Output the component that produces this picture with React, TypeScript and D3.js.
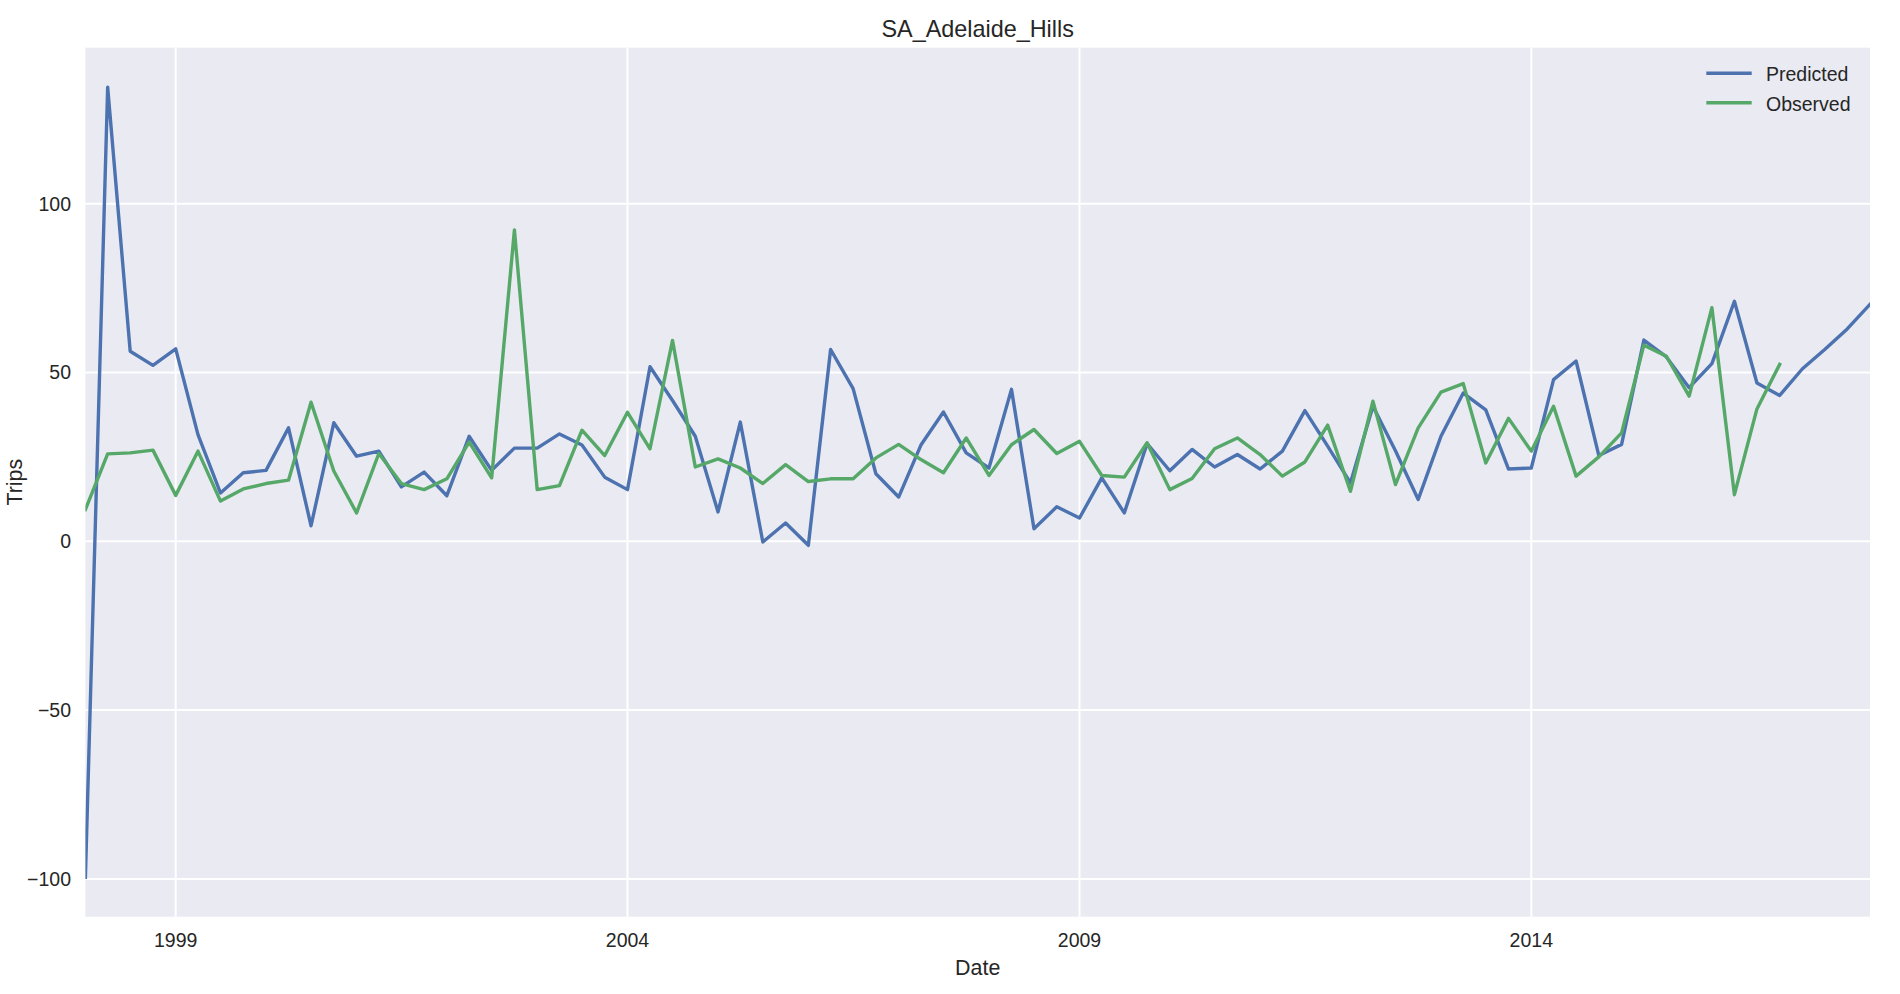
import * as d3 from "d3";

// quarterly values, 1998 Q1 onward
const predicted: number[] = [
  -99.5, 134.5, 56.3, 52.1, 57.0, 31.6, 14.3, 20.3, 21.0, 33.6,
  4.6, 35.1, 25.2, 26.7, 16.1, 20.5, 13.5, 31.1, 21.0, 27.6,
  27.6, 31.8, 28.5, 19.0, 15.3, 51.7, 41.7, 31.1, 8.7, 35.3,
  -0.2, 5.4, -1.2, 56.8, 45.2, 20.0, 13.1, 28.5, 38.3, 26.2,
  21.7, 45.0, 3.7, 10.2, 6.9, 18.8, 8.4, 28.9, 20.9, 27.2,
  22.0, 25.7, 21.4, 26.7, 38.7, 28.2, 17.3, 40.0, 26.8, 12.4,
  31.1, 43.9, 38.9, 21.4, 21.7, 47.9, 53.4, 25.4, 28.7, 59.6,
  54.6, 45.5, 52.6, 71.1, 46.9, 43.2, 51.1, 56.8, 62.9, 70.2,
];

const observed: number[] = [
  9.4, 25.9, 26.2, 27.0, 13.6, 26.7, 11.9, 15.5, 17.1, 18.1,
  41.2, 20.8, 8.4, 26.0, 17.1, 15.3, 18.5, 29.4, 18.8, 92.2,
  15.3, 16.5, 32.9, 25.4, 38.2, 27.4, 59.5, 22.0, 24.4, 21.7,
  17.1, 22.7, 17.7, 18.5, 18.5, 24.7, 28.7, 24.2, 20.3, 30.6,
  19.5, 28.6, 33.1, 26.0, 29.6, 19.5, 19.0, 29.2, 15.3, 18.6,
  27.4, 30.6, 25.7, 19.3, 23.5, 34.4, 14.8, 41.5, 16.8, 33.6,
  44.2, 46.7, 23.2, 36.4, 26.7, 40.0, 19.3, 25.0, 32.1, 58.1,
  54.8, 43.0, 69.2, 13.8, 39.2, 52.4,
];

const tickYears: number[] = [1999, 2004, 2009, 2014];
const yTicks: number[] = [-100, -50, 0, 50, 100];

const series = [
  { name: "Predicted", values: predicted, color: "#4C72B0" },
  { name: "Observed", values: observed, color: "#55A868" },
];

const W = 1900;
const H = 994;
const left = 85.4;
const right = 1870;
const top = 47.7;
const bottom = 916.7;
const font = "'Liberation Sans', Arial, sans-serif";
const ink = "#262626";

const quarter = (i: number) => new Date(1998, i * 3, 1);

export default function App() {
  const x = d3
    .scaleTime()
    .domain([quarter(0), quarter(predicted.length - 1)])
    .range([left, right]);

  const y = d3.scaleLinear().domain([-111.2, 146.2]).range([bottom, top]);

  const line = d3
    .line<number>()
    .x((_, i) => x(quarter(i)))
    .y((d) => y(d));

  const fmt = (v: number) => (v < 0 ? "\u2212" + Math.abs(v) : String(v));

  return (
    <svg
      width={W}
      height={H}
      style={{ position: "absolute", left: 0, top: 0, display: "block" }}
      fontFamily={font}
    >
      <rect x={0} y={0} width={W} height={H} fill="#ffffff" />
      <defs>
        <clipPath id="plot">
          <rect x={left} y={top} width={right - left} height={bottom - top} />
        </clipPath>
      </defs>
      <rect x={left} y={top} width={right - left} height={bottom - top} fill="#EAEAF2" />

      {/* grid */}
      {yTicks.map((t) => (
        <line key={"gy" + t} x1={left} x2={right} y1={y(t)} y2={y(t)} stroke="#fff" strokeWidth={2} />
      ))}
      {tickYears.map((yr) => (
        <line
          key={"gx" + yr}
          x1={x(new Date(yr, 0, 1))}
          x2={x(new Date(yr, 0, 1))}
          y1={top}
          y2={bottom}
          stroke="#fff"
          strokeWidth={2}
        />
      ))}

      {/* series */}
      <g clipPath="url(#plot)">
        {series.map((s) => (
          <path
            key={s.name}
            d={line(s.values) ?? ""}
            fill="none"
            stroke={s.color}
            strokeWidth={3.4}
            strokeLinejoin="round"
            strokeLinecap="square"
          />
        ))}
      </g>

      {/* y ticks */}
      {yTicks.map((t) => (
        <text key={"ty" + t} x={71} y={y(t) + 7} textAnchor="end" fontSize={19.5} fill={ink}>
          {fmt(t)}
        </text>
      ))}

      {/* x ticks */}
      {tickYears.map((yr) => (
        <text key={"tx" + yr} x={x(new Date(yr, 0, 1))} y={946.7} textAnchor="middle" fontSize={19.5} fill={ink}>
          {yr}
        </text>
      ))}

      <text x={(left + right) / 2} y={975} textAnchor="middle" fontSize={21.4} fill={ink}>
        Date
      </text>
      <text
        transform={`translate(22, ${(top + bottom) / 2}) rotate(-90)`}
        textAnchor="middle"
        fontSize={21.4}
        fill={ink}
      >
        Trips
      </text>
      <text x={(left + right) / 2} y={36.7} textAnchor="middle" fontSize={23.4} fill={ink}>
        SA_Adelaide_Hills
      </text>

      {/* legend */}
      {series.map((s, i) => {
        const ly = 73.3 + i * 29.4;
        return (
          <g key={"lg" + s.name}>
            <line x1={1708} x2={1750} y1={ly} y2={ly} stroke={s.color} strokeWidth={3.4} strokeLinecap="square" />
            <text x={1766} y={ly + 7.8} fontSize={19.5} fill={ink}>
              {s.name}
            </text>
          </g>
        );
      })}
    </svg>
  );
}
